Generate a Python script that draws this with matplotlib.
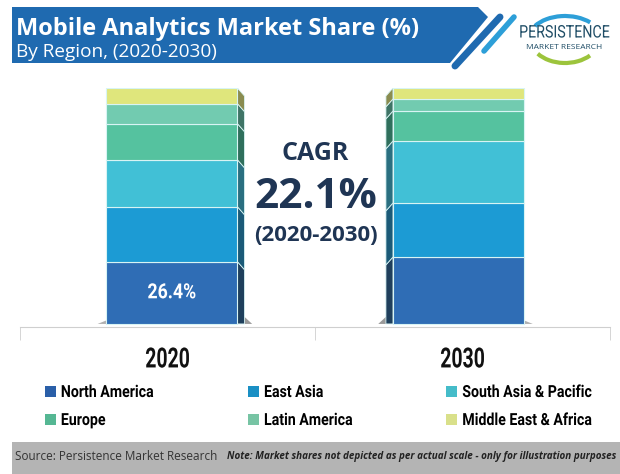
import numpy as np
import matplotlib
matplotlib.use("Agg")
from matplotlib import pyplot as plt
from matplotlib.patches import Polygon, Rectangle, Arc
from matplotlib.patheffects import AbstractPathEffect
from matplotlib.transforms import Affine2D

years = ["2020", "2030"]
regions = ["North America", "East Asia", "South Asia & Pacific",
           "Europe", "Latin America", "Middle East & Africa"]
north_america = [26.4, 28.4]
east_asia = [23.3, 22.9]
south_asia = [19.9, 26.3]
europe = [15.3, 12.7]
latin_america = [8.5, 5.1]
middle_east = [6.6, 4.6]
shares = [north_america, east_asia, south_asia, europe, latin_america, middle_east]

colors = ["#2f6db5", "#1c9bd4", "#41c0d6", "#55c29f", "#72cbb0", "#dfe67c"]
side_colors = ["#1f3f5c", "#1b5a78", "#2a6f80", "#2f6f5c", "#3f7466", "#8a8c50"]
legend_colors = ["#2a5fa8", "#1a8fc4", "#45bcc9", "#55b793", "#77c4a4", "#d9e08a"]

DARK = "#1f3554"
COND = "Roboto"


# squeezes text sideways, there is no condensed font installed
class Narrow(AbstractPathEffect):
    def __init__(self, sx, centered=True):
        super().__init__()
        self.sx = sx
        self.centered = centered

    def draw_path(self, renderer, gc, tpath, affine, rgbFace=None):
        cx = 0
        if self.centered:
            ext = tpath.get_extents()
            cx = (ext.x0 + ext.x1) / 2
        squeeze = Affine2D().translate(-cx, 0).scale(self.sx, 1).translate(cx, 0)
        renderer.draw_path(gc, tpath, squeeze + affine, rgbFace)


fig = plt.figure(figsize=(6.2, 4.74), dpi=100, facecolor="white")

# background layer in pixel coordinates, for header, logo and footer
bg = fig.add_axes([0, 0, 1, 1])
bg.set_xlim(0, 620)
bg.set_ylim(474, 0)
bg.axis("off")

bg.add_patch(Polygon([[12, 7], [478, 7], [488, 17], [450, 63], [12, 63]],
                     closed=True, fc="#1f6ab0", ec="none"))
bg.plot([455, 500], [66, 17], color="#1f6ab0", lw=5, solid_capstyle="round")
bg.plot([484, 514], [51, 17], color="#2d9fd8", lw=4, solid_capstyle="round")
bg.text(16, 29, "Mobile Analytics Market Share (%)", color="white", fontsize=17.05,
        fontweight="bold", family="Open Sans", va="center", ha="left")
bg.text(16, 52, "By Region, (2020-2030)", color="white", fontsize=13.7,
        family="Open Sans", va="center", ha="left")

# logo
bg.add_patch(Arc((565, 38), 70, 50, theta1=35, theta2=150, color="#9cc43c", lw=3))
bg.add_patch(Arc((565, 40), 74, 48, theta1=205, theta2=325, color="#2d9fd8", lw=3))
bg.text(564, 33, "PERSISTENCE", color="#1f4d66", fontsize=12.5, family=COND,
        va="center", ha="center", zorder=3, path_effects=[Narrow(0.82)])
bg.text(564, 47, "MARKET RESEARCH", color="#1f4d66", fontsize=6, family="Open Sans",
        va="center", ha="center", zorder=3)

# footer
bg.add_patch(Rectangle((12, 442), 608, 32, fc="#b4b4b4", ec="none"))
bg.text(15, 456, "Source: Persistence Market Research", color="#333333", fontsize=8.5,
        family="Open Sans", va="center", ha="left")
bg.text(616, 456, "Note: Market shares not depicted as per actual scale - only for illustration purposes",
        color="#222222", fontsize=7.1, style="italic", fontweight="bold", family="Open Sans",
        va="center", ha="right")

# CAGR block
bg.text(315, 153, "CAGR", color=DARK, fontsize=18, fontweight="bold",
        family="Open Sans", va="center", ha="center")
bg.text(316, 197, "22.1%", color=DARK, fontsize=30.5, fontweight="bold",
        family="Open Sans", va="center", ha="center")
bg.text(316, 235, "(2020-2030)", color=DARK, fontsize=16, fontweight="bold",
        family="Open Sans", va="center", ha="center")

# chart axes: x 20-610 px, baseline 327 px, 100% at 88 px
left, right, base, top = 20, 610, 327, 88
ax = fig.add_axes([left / 620, 1 - base / 474, (right - left) / 620, (base - top) / 474])
ax.patch.set_alpha(0)
ax.set_xlim(-0.5, 1.5)
ax.set_ylim(-1.3, 100)

x_pos = np.array([0.015, -0.0136 + 1])
bar_w = 0.444
side_w = 0.024
drop = 3.4

# shadows under the columns
x0 = x_pos[0] + bar_w / 2
x1 = x_pos[1] - bar_w / 2
ax.add_patch(Polygon([[x0, 0], [x0 + 0.05, 0], [x0 + side_w, 3]], closed=True,
                     fc="#9a9a9a", ec="none", zorder=1))
ax.add_patch(Polygon([[x1, 0], [x1 - 0.05, 0], [x1 - side_w, 3]], closed=True,
                     fc="#9a9a9a", ec="none", zorder=1))
ax.add_patch(Polygon([[x_pos[0] - bar_w / 2, 0], [x_pos[0] - bar_w / 2 - 0.03, 0],
                      [x_pos[0] - bar_w / 2, 1.5]], closed=True, fc="#b0b0b0", ec="none", zorder=1))
ax.add_patch(Polygon([[x_pos[1] + bar_w / 2, 0], [x_pos[1] + bar_w / 2 + 0.03, 0],
                      [x_pos[1] + bar_w / 2, 1.5]], closed=True, fc="#b0b0b0", ec="none", zorder=1))

bottom = np.zeros(2)
for i in range(len(regions)):
    vals = np.array(shares[i])
    ax.bar(x_pos, vals, bar_w, bottom=bottom, color=colors[i], edgecolor="#d8f4f4",
           linewidth=0.8, label=regions[i], zorder=3)
    # side faces of the fake 3D columns, one per segment, slanting downwards
    for x_edge, w, b, v in [(x0, side_w, bottom[0], vals[0]), (x1, -side_w, bottom[1], vals[1])]:
        low = max(b - drop, 0)
        ax.add_patch(Polygon([[x_edge, b], [x_edge + w, low], [x_edge + w, b + v - drop], [x_edge, b + v]],
                             closed=True, fc=side_colors[i], ec="#d8f4f4", lw=0.6, zorder=2))
    bottom += vals

ax.text(x_pos[0], north_america[0] / 2, "%.1f%%" % north_america[0], color="white",
        fontsize=15, fontweight="bold", family=COND, ha="center", va="center", zorder=4,
        path_effects=[Narrow(0.85)])

for s in ["top", "left", "right"]:
    ax.spines[s].set_visible(False)
ax.spines["bottom"].set_color("#cfcfcf")
ax.set_yticks([])
ax.set_xticks([0, 1])
ax.set_xticklabels(years, fontsize=20, fontweight="bold", family=COND, color="#111111",
                   path_effects=[Narrow(0.7)])
ax.tick_params(axis="x", which="major", length=0, pad=14)
ax.set_xticks([-0.5, 0.5, 1.5], minor=True)
ax.tick_params(axis="x", which="minor", length=9, color="#cfcfcf")

order = [0, 3, 1, 4, 2, 5]
swatches = [Rectangle((0, 0), 1, 1, fc=legend_colors[i], ec="none") for i in order]
leg = fig.legend(swatches, [regions[i] for i in order], ncol=3, frameon=False,
                 loc="center left", bbox_to_anchor=(45 / 620, 1 - 406.5 / 474),
                 prop={"family": COND, "weight": "bold", "size": 12},
                 handlelength=0.65, handleheight=0.65, handletextpad=0.3,
                 columnspacing=4.7, labelspacing=0.78, borderpad=0, borderaxespad=0)
for t in leg.get_texts():
    t.set_path_effects([Narrow(0.85, centered=False)])

plt.savefig("out.png", dpi=100)
